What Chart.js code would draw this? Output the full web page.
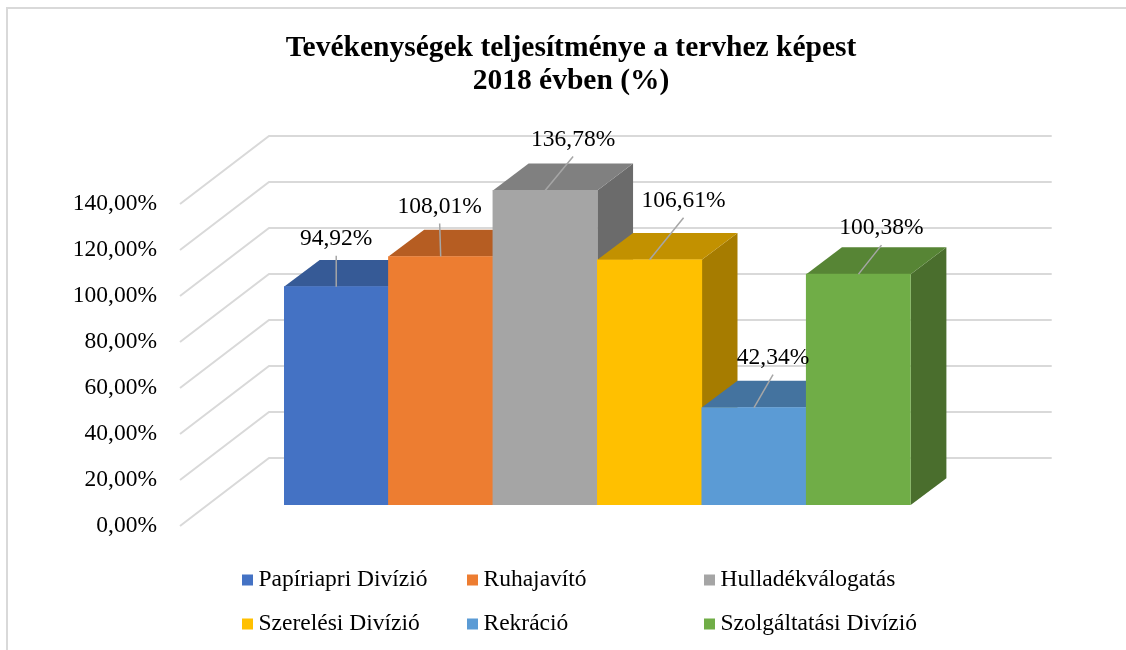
<!DOCTYPE html>
<html><head><meta charset="utf-8">
<script src="https://cdn.jsdelivr.net/npm/chart.js@4/dist/chart.umd.min.js"></script>
<style>html,body{margin:0;padding:0;background:#fff;} canvas{display:block;}</style>
</head><body>
<canvas id="c" width="1126" height="650"></canvas>
<script>
// ---- data ----
const categories = ['Papíriapri Divízió','Ruhajavító','Hulladékválogatás','Szerelési Divízió','Rekráció','Szolgáltatási Divízió'];
const values = [94.92, 108.01, 136.78, 106.61, 42.34, 100.38];
const yTicks = [0, 20, 40, 60, 80, 100, 120, 140];
const titleLines = ['Tevékenységek teljesítménye a tervhez képest', '2018 évben (%)'];

// ---- styles ----
const frontColors = ['#4472C4','#ED7D31','#A5A5A5','#FFC000','#5B9BD5','#70AD47'];
const topColors   = ['#365A96','#B65D22','#808080','#C29100','#44739F','#578535'];
const sideColors  = ['#2E4E85','#9E501D','#6B6B6B','#A67C00','#3A6289','#4A6E2D'];
const labelOffsets = [[0,-48],[-1,-50],[28,-51],[34,-59],[19,-50],[23,-46]];
const FONT = '"Liberation Serif","Times New Roman",Times,serif';
const FS = 23.5;
const DX = 35.7, DY = 26.8;       // bar depth projection
const fmt = v => v.toFixed(2).replace('.', ',') + '%';

const threeD = {
  id: 'threeD',
  beforeDraw(chart) {
    const ctx = chart.ctx;
    ctx.save();
    ctx.fillStyle = '#d9d9d9';
    ctx.fillRect(6, 7, 2, 650);
    ctx.fillRect(6, 7, 1126, 2);
    ctx.restore();
  },
  beforeDatasetsDraw(chart) {
    const ctx = chart.ctx, y = chart.scales.y, a = chart.chartArea;
    ctx.save();
    ctx.strokeStyle = '#d9d9d9';
    ctx.lineWidth = 2;
    yTicks.forEach(v => {
      const py = y.getPixelForValue(v);
      ctx.beginPath();
      ctx.moveTo(a.left - 104, py + 21);
      ctx.lineTo(a.left - 15, py - 47);
      ctx.lineTo(a.right + 141, py - 47);
      ctx.stroke();
    });
    const meta = chart.getDatasetMeta(0);
    meta.data.forEach((bar, i) => {
      const l = bar.x - bar.width / 2, r = bar.x + bar.width / 2, t = bar.y, b = bar.base;
      ctx.fillStyle = sideColors[i];
      ctx.beginPath();
      ctx.moveTo(r, t); ctx.lineTo(r + DX, t - DY); ctx.lineTo(r + DX, b - DY); ctx.lineTo(r, b);
      ctx.closePath(); ctx.fill();
      ctx.fillStyle = topColors[i];
      ctx.beginPath();
      ctx.moveTo(l, t); ctx.lineTo(l + DX, t - DY); ctx.lineTo(r + DX, t - DY); ctx.lineTo(r, t);
      ctx.closePath(); ctx.fill();
    });
    ctx.restore();
  },
  afterDatasetsDraw(chart) {
    const ctx = chart.ctx;
    const meta = chart.getDatasetMeta(0);
    ctx.save();
    meta.data.forEach((bar, i) => {
      const cx = bar.x, ty = bar.y;
      const lx = cx + labelOffsets[i][0], ly = ty + labelOffsets[i][1];
      ctx.strokeStyle = '#a6a6a6';
      ctx.lineWidth = 1.5;
      ctx.beginPath(); ctx.moveTo(cx, ty); ctx.lineTo(lx, ly + 17); ctx.stroke();
      ctx.fillStyle = '#000';
      ctx.font = FS + 'px ' + FONT;
      ctx.textAlign = 'center'; ctx.textBaseline = 'middle';
      ctx.fillText(fmt(values[i]), lx, ly);
    });
    ctx.restore();
  },
  afterDraw(chart) {
    const ctx = chart.ctx;
    ctx.save();
    // title
    ctx.fillStyle = '#000';
    ctx.font = 'bold 29.5px ' + FONT;
    ctx.textAlign = 'center'; ctx.textBaseline = 'middle';
    titleLines.forEach((t, i) => ctx.fillText(t, 571, 48 + i * 33));
    // legend
    const cols = [242, 467, 704], rows = [580, 624];
    ctx.font = FS + 'px ' + FONT;
    ctx.textAlign = 'left'; ctx.textBaseline = 'middle';
    categories.forEach((c, i) => {
      const x = cols[i % 3], yy = rows[Math.floor(i / 3)];
      ctx.fillStyle = frontColors[i];
      ctx.fillRect(x, yy - 5.5, 11, 11);
      ctx.fillStyle = '#000';
      ctx.fillText(c, x + 16.5, yy);
    });
    ctx.restore();
  }
};

new Chart(document.getElementById('c'), {
  type: 'bar',
  data: {
    labels: categories,
    datasets: [{
      data: values,
      backgroundColor: frontColors,
      borderWidth: 0,
      barPercentage: 1,
      categoryPercentage: 1
    }]
  },
  options: {
    responsive: false,
    animation: false,
    devicePixelRatio: 1,
    layout: { padding: { left: 0, right: 215.3, top: 183, bottom: 145 } },
    plugins: {
      legend: { display: false },
      tooltip: { enabled: false },
      title: { display: false }
    },
    scales: {
      x: { display: false },
      y: {
        min: 0, max: 140,
        afterFit: s => { s.width = 284; },
        afterBuildTicks: s => { s.ticks = yTicks.map(v => ({ value: v })); },
        grid: { display: false, drawTicks: false },
        border: { display: false },
        ticks: {
          padding: 127,
          labelOffset: 21,
          color: '#000',
          font: { family: FONT, size: FS },
          callback: v => fmt(v)
        }
      }
    }
  },
  plugins: [threeD]
});
</script>
</body></html>
